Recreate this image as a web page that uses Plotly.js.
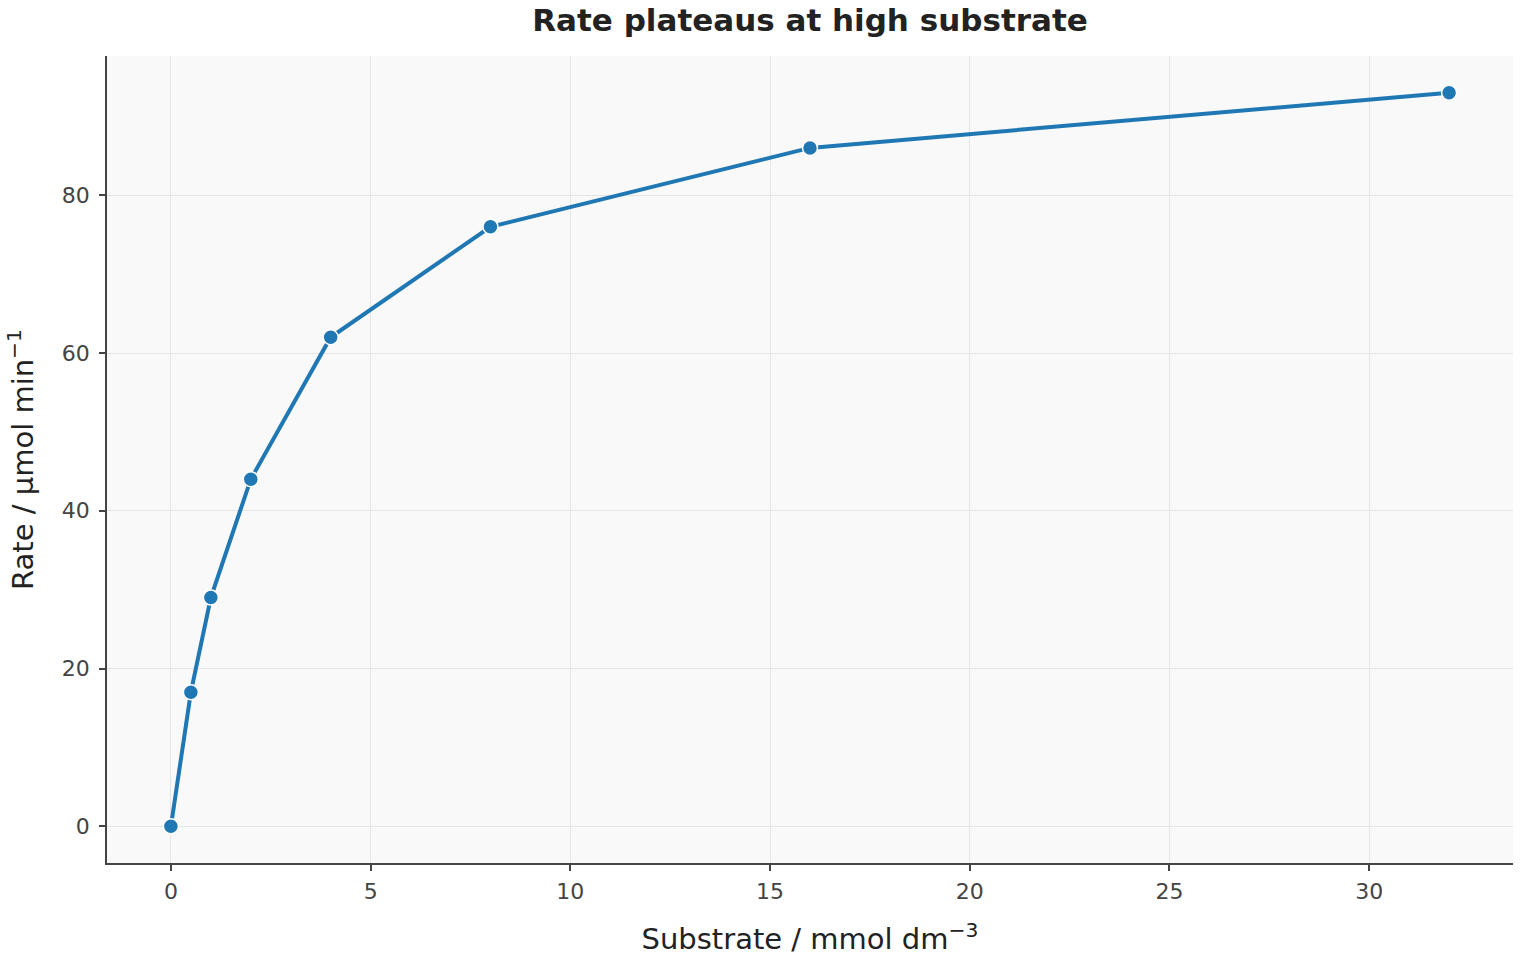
<!DOCTYPE html>
<html>
<head>
<meta charset="utf-8">
<script src="https://cdn.plot.ly/plotly-3.0.1.min.js"></script>
<style>html,body{margin:0;padding:0;background:#fff;}#chart{width:1520px;height:960px;}</style>
</head>
<body>
<div id="chart"></div>
<script>
const substrate = [0, 0.5, 1, 2, 4, 8, 16, 32];
const rate = [0, 17, 29, 44, 62, 76, 86, 93];
const xTicks = [0, 5, 10, 15, 20, 25, 30];
const yTicks = [0, 20, 40, 60, 80];

const font = "DejaVu Sans";
const trace = {
  x: substrate, y: rate, type: 'scatter', mode: 'lines+markers',
  line: {color: '#1f77b4', width: 4},
  marker: {color: '#1f77b4', size: 15, line: {color: '#ffffff', width: 1.5}},
  hoverinfo: 'x+y'
};
const axisCommon = {
  showline: true, linecolor: '#444444', linewidth: 1.5,
  ticks: 'outside', ticklen: 6, tickwidth: 1.5, tickcolor: '#444444',
  showgrid: true, gridcolor: '#e5e5e8', gridwidth: 1,
  zeroline: false, mirror: false,
  tickfont: {family: font, size: 22, color: '#444444'}
};
const layout = {
  width: 1520, height: 960,
  margin: {l: 107, r: 7, t: 56, b: 97},
  paper_bgcolor: '#ffffff', plot_bgcolor: '#f9f9f9',
  showlegend: false,
  title: {text: '<b>Rate plateaus at high substrate</b>', xref: 'paper', x: 0.5, xanchor: 'center', y: 0.979, yanchor: 'middle',
          font: {family: font, size: 31, color: '#222222'}},
  xaxis: Object.assign({}, axisCommon, {
    range: [-1.6, 33.6], tickvals: xTicks, ticktext: xTicks.map(String),
    ticklabelstandoff: 2,
    title: {text: 'Substrate / mmol dm<sup>−3</sup>', standoff: 26, font: {family: font, size: 29, color: '#222222'}}
  }),
  yaxis: Object.assign({}, axisCommon, {
    range: [-4.65, 97.65], tickvals: yTicks, ticktext: yTicks.map(String),
    ticklabelstandoff: 5,
    title: {text: 'Rate / µmol min<sup>−1</sup>', standoff: 20, font: {family: font, size: 29, color: '#222222'}}
  })
};
Plotly.newPlot('chart', [trace], layout, {displayModeBar: false, responsive: false});
</script>
</body>
</html>
